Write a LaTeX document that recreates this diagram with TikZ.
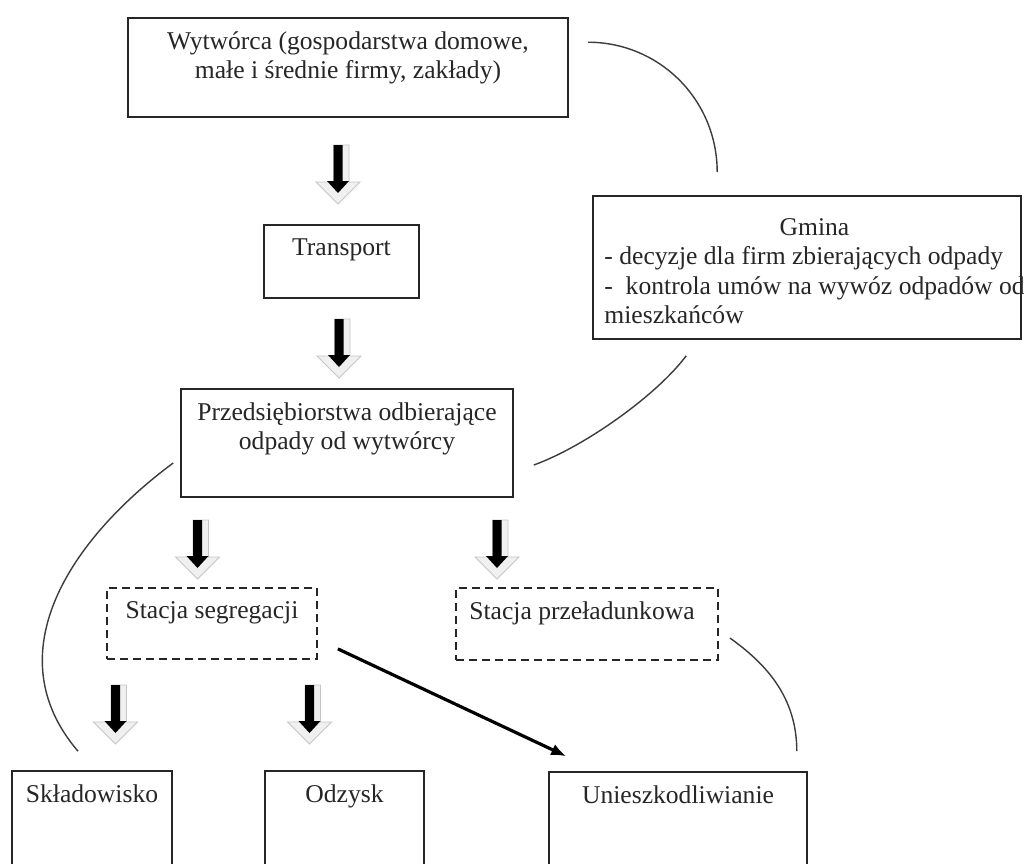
\documentclass[tikz,border=0pt]{standalone}
\usepackage{fontspec}
\setmainfont{Liberation Serif}
\usepackage{tikz}
\usetikzlibrary{arrows.meta, positioning, calc}

\definecolor{LineGray}{RGB}{60,60,60}
\tikzstyle{box} = [draw=black!85, line width=1.6pt, inner sep=0pt]
\tikzstyle{dbox} = [box, line width=1.8pt, dash pattern=on 8pt off 5pt]
\tikzstyle{lbl} = [anchor=north, yshift=-14pt, align=center, inner sep=0pt, text=black!85]
\tikzstyle{link} = [LineGray, line width=1.4pt]
\tikzstyle{arrow} = [line width=3.2pt, -{Latex[length=15pt, width=12pt]}]

\tikzset{
  downarr/.pic={
    \filldraw[fill=gray!12, draw=gray!45, line width=0.8pt] (-4.5,0) -- (11,0) -- (11,37) -- (22,37) -- (0,59) -- (-22,37) -- (-4.5,37) -- cycle;
    \fill[black] (-4.5,0) -- (4.5,0) -- (4.5,36) -- (11,36) -- (0,48) -- (-11,36) -- (-4.5,36) -- cycle;
  }
}

\begin{document}
\begin{tikzpicture}[x=1pt, y=-1pt, font=\fontsize{25.6}{29.5}\selectfont]
\clip (0,0) rectangle (1024,863);
\fill[white] (0,0) rectangle (1024,863);

% boxes
\node[box, minimum width=440pt, minimum height=99pt, label={[lbl]north:{Wytwórca (gospodarstwa domowe,\\małe i średnie firmy, zakłady)}}] (wytworca) at (348,67.5) {};
\node[box, minimum width=155pt, minimum height=73pt, label={[lbl]north:Transport}] (transport) at (341.5,261.5) {};
\node[box, minimum width=428pt, minimum height=143pt, label={[lbl, anchor=north west, yshift=-5pt, xshift=12pt]north west:{\begin{tabular}{@{}l@{}}\multicolumn{1}{@{}c@{}}{Gmina}\\- decyzje dla firm zbierających odpady\\-\ \ kontrola umów na wywóz odpadów od\\mieszkańców\end{tabular}}}] (gmina) at (807,267.5) {};
\node[box, minimum width=332pt, minimum height=108pt, label={[lbl]north:{Przedsiębiorstwa odbierające\\odpady od wytwórcy}}] (firmy) at (347,443) {};
\node[dbox, minimum width=210pt, minimum height=71pt, label={[lbl]north:Stacja segregacji}] (segregacja) at (212,623.5) {};
\node[dbox, minimum width=262pt, minimum height=72pt, label={[lbl, anchor=north west, xshift=14pt]north west:Stacja przeładunkowa}] (przeladunek) at (587,624) {};
\node[box, minimum width=160pt, minimum height=130pt, label={[lbl]north:Składowisko}] (skladowisko) at (92,836) {};
\node[box, minimum width=159pt, minimum height=130pt, label={[lbl]north:Odzysk}] (odzysk) at (344.5,836) {};
\node[box, minimum width=258pt, minimum height=130pt, label={[lbl]north:Unieszkodliwianie}] (unieszkodliwianie) at (678,837) {};

% block arrows
\foreach \x/\y in {338/145, 339/319, 197.5/520, 497/520, 115.5/685, 309.5/685}
  \pic at (\x,\y) {downarr};

% links
\draw[link] ($(wytworca.north east)+(19,25)$) .. controls +(72,0) and +(0,-72) .. ($(gmina.north west)+(125,-23)$);
\draw[link] ($(gmina.south west)+(94,16)$) .. controls +(-30,40) and +(50,-18) .. ($(firmy.east)+(20,22)$);
\draw[link] ($(firmy.west)+(-7,20)$) .. controls +(-104,77) and +(-83,-97) .. ($(skladowisko.north)+(-14,-19)$);
\draw[link] ($(przeladunek.east)+(11,14)$) .. controls +(35,25) and +(0,-55) .. ($(unieszkodliwianie.north east)+(-11,-20)$);
\draw[arrow] ($(segregacja.south east)+(20,-11)$) -- ($(unieszkodliwianie.north west)+(18,-15)$);
\end{tikzpicture}
\end{document}
